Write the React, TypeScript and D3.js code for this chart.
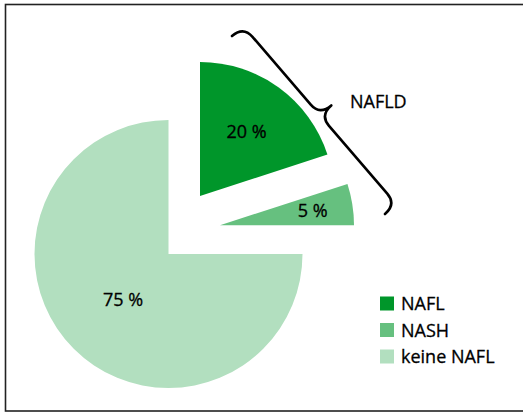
import React from "react";
import * as d3 from "d3";

const categories = ["NAFL", "NASH", "keine NAFL"];
const values = [20, 5, 75];
const valueLabels = ["20 %", "5 %", "75 %"];
const colors = ["#00962a", "#66c07f", "#b2dfbf"];
const braceLabel = "NAFLD";

const W = 523;
const H = 413;
const CX = 168.5;
const CY = 254;
const R = 134;
// explode offsets (dx, dy) per slice
const explodeDX = [31.5, 51.5, 0];
const explodeDY = [-58, -28.7, 0];
const labelRadiusFrac = [0.59, 0.7, 0.48];

// curly brace between (x1,y1) and (x2,y2), bulging to the left of the p1->p2 direction
function curlyBrace(x1: number, y1: number, x2: number, y2: number, w: number, h: number) {
  const dx = x2 - x1;
  const dy = y2 - y1;
  const L = Math.sqrt(dx * dx + dy * dy);
  const tx = dx / L;
  const ty = dy / L;
  // normal (left of direction)
  const nx = ty;
  const ny = -tx;
  const pt = (u: number, v: number): [number, number] => [x1 + tx * u + nx * v, y1 + ty * u + ny * v];
  const p = d3.path();
  const half = (from: number, sign: number) => {
    const u0 = from;
    const a = pt(u0, 0);
    p.moveTo(a[0], a[1]);
    const c1 = pt(u0, w / 2);
    const b = pt(u0 + sign * h, w / 2);
    p.quadraticCurveTo(c1[0], c1[1], b[0], b[1]);
    const c = pt(L / 2 - sign * h, w / 2);
    const m = L / 2;
    p.lineTo(c[0], c[1]);
    const c2 = pt(m, w / 2);
    const tip = pt(m, w);
    p.quadraticCurveTo(c2[0], c2[1], tip[0], tip[1]);
  };
  half(0, 1);
  half(L, -1);
  return p.toString();
}

export default function App() {
  const pie = d3.pie<number>().sort(null).value((d) => d);
  const arcs = pie(values);
  const arc = d3.arc<d3.PieArcDatum<number>>().innerRadius(0).outerRadius(R);
  const font = "'Open Sans', 'Noto Sans', sans-serif";

  const legendY = d3.scaleBand<string>().domain(categories).range([296.5, 376]).paddingInner(0);

  return (
    <svg
      width={W}
      height={H}
      style={{ position: "absolute", left: 0, top: 0, background: "#fff" }}
    >
      <rect x={5.5} y={4.5} width={530} height={406.5} fill="#fff" stroke="#222" strokeWidth={1.6} />
      {arcs.map((a, i) => {
        const mid = (a.startAngle + a.endAngle) / 2;
        const lr = R * labelRadiusFrac[i];
        const lx = Math.sin(mid) * lr;
        const ly = -Math.cos(mid) * lr;
        return (
          <g key={categories[i]} transform={`translate(${CX + explodeDX[i]},${CY + explodeDY[i]})`}>
            <path d={arc(a) || ""} fill={colors[i]} />
            <text
              x={lx}
              y={ly}
              dy="0.35em"
              textAnchor="middle"
              fontFamily={font}
              fontSize={18}
              fill="#000"
              stroke="#000"
              strokeWidth={0.3}
            >
              {valueLabels[i]}
            </text>
          </g>
        );
      })}
      <path
        d={curlyBrace(232, 36, 385, 214, 30, 14)}
        fill="none"
        stroke="#000"
        strokeWidth={2.6}
        strokeLinecap="round"
        strokeLinejoin="round"
      />
      <text x={350} y={108} fontFamily={font} fontSize={18} fill="#000" stroke="#000" strokeWidth={0.3}>
        {braceLabel}
      </text>
      {categories.map((c, i) => {
        const y = legendY(c) as number;
        return (
          <g key={c}>
            <rect x={380} y={y} width={14} height={14} fill={colors[i]} />
            <text x={401} y={y + 13.5} fontFamily={font} fontSize={18} fill="#000" stroke="#000" strokeWidth={0.3}>
              {c}
            </text>
          </g>
        );
      })}
    </svg>
  );
}
